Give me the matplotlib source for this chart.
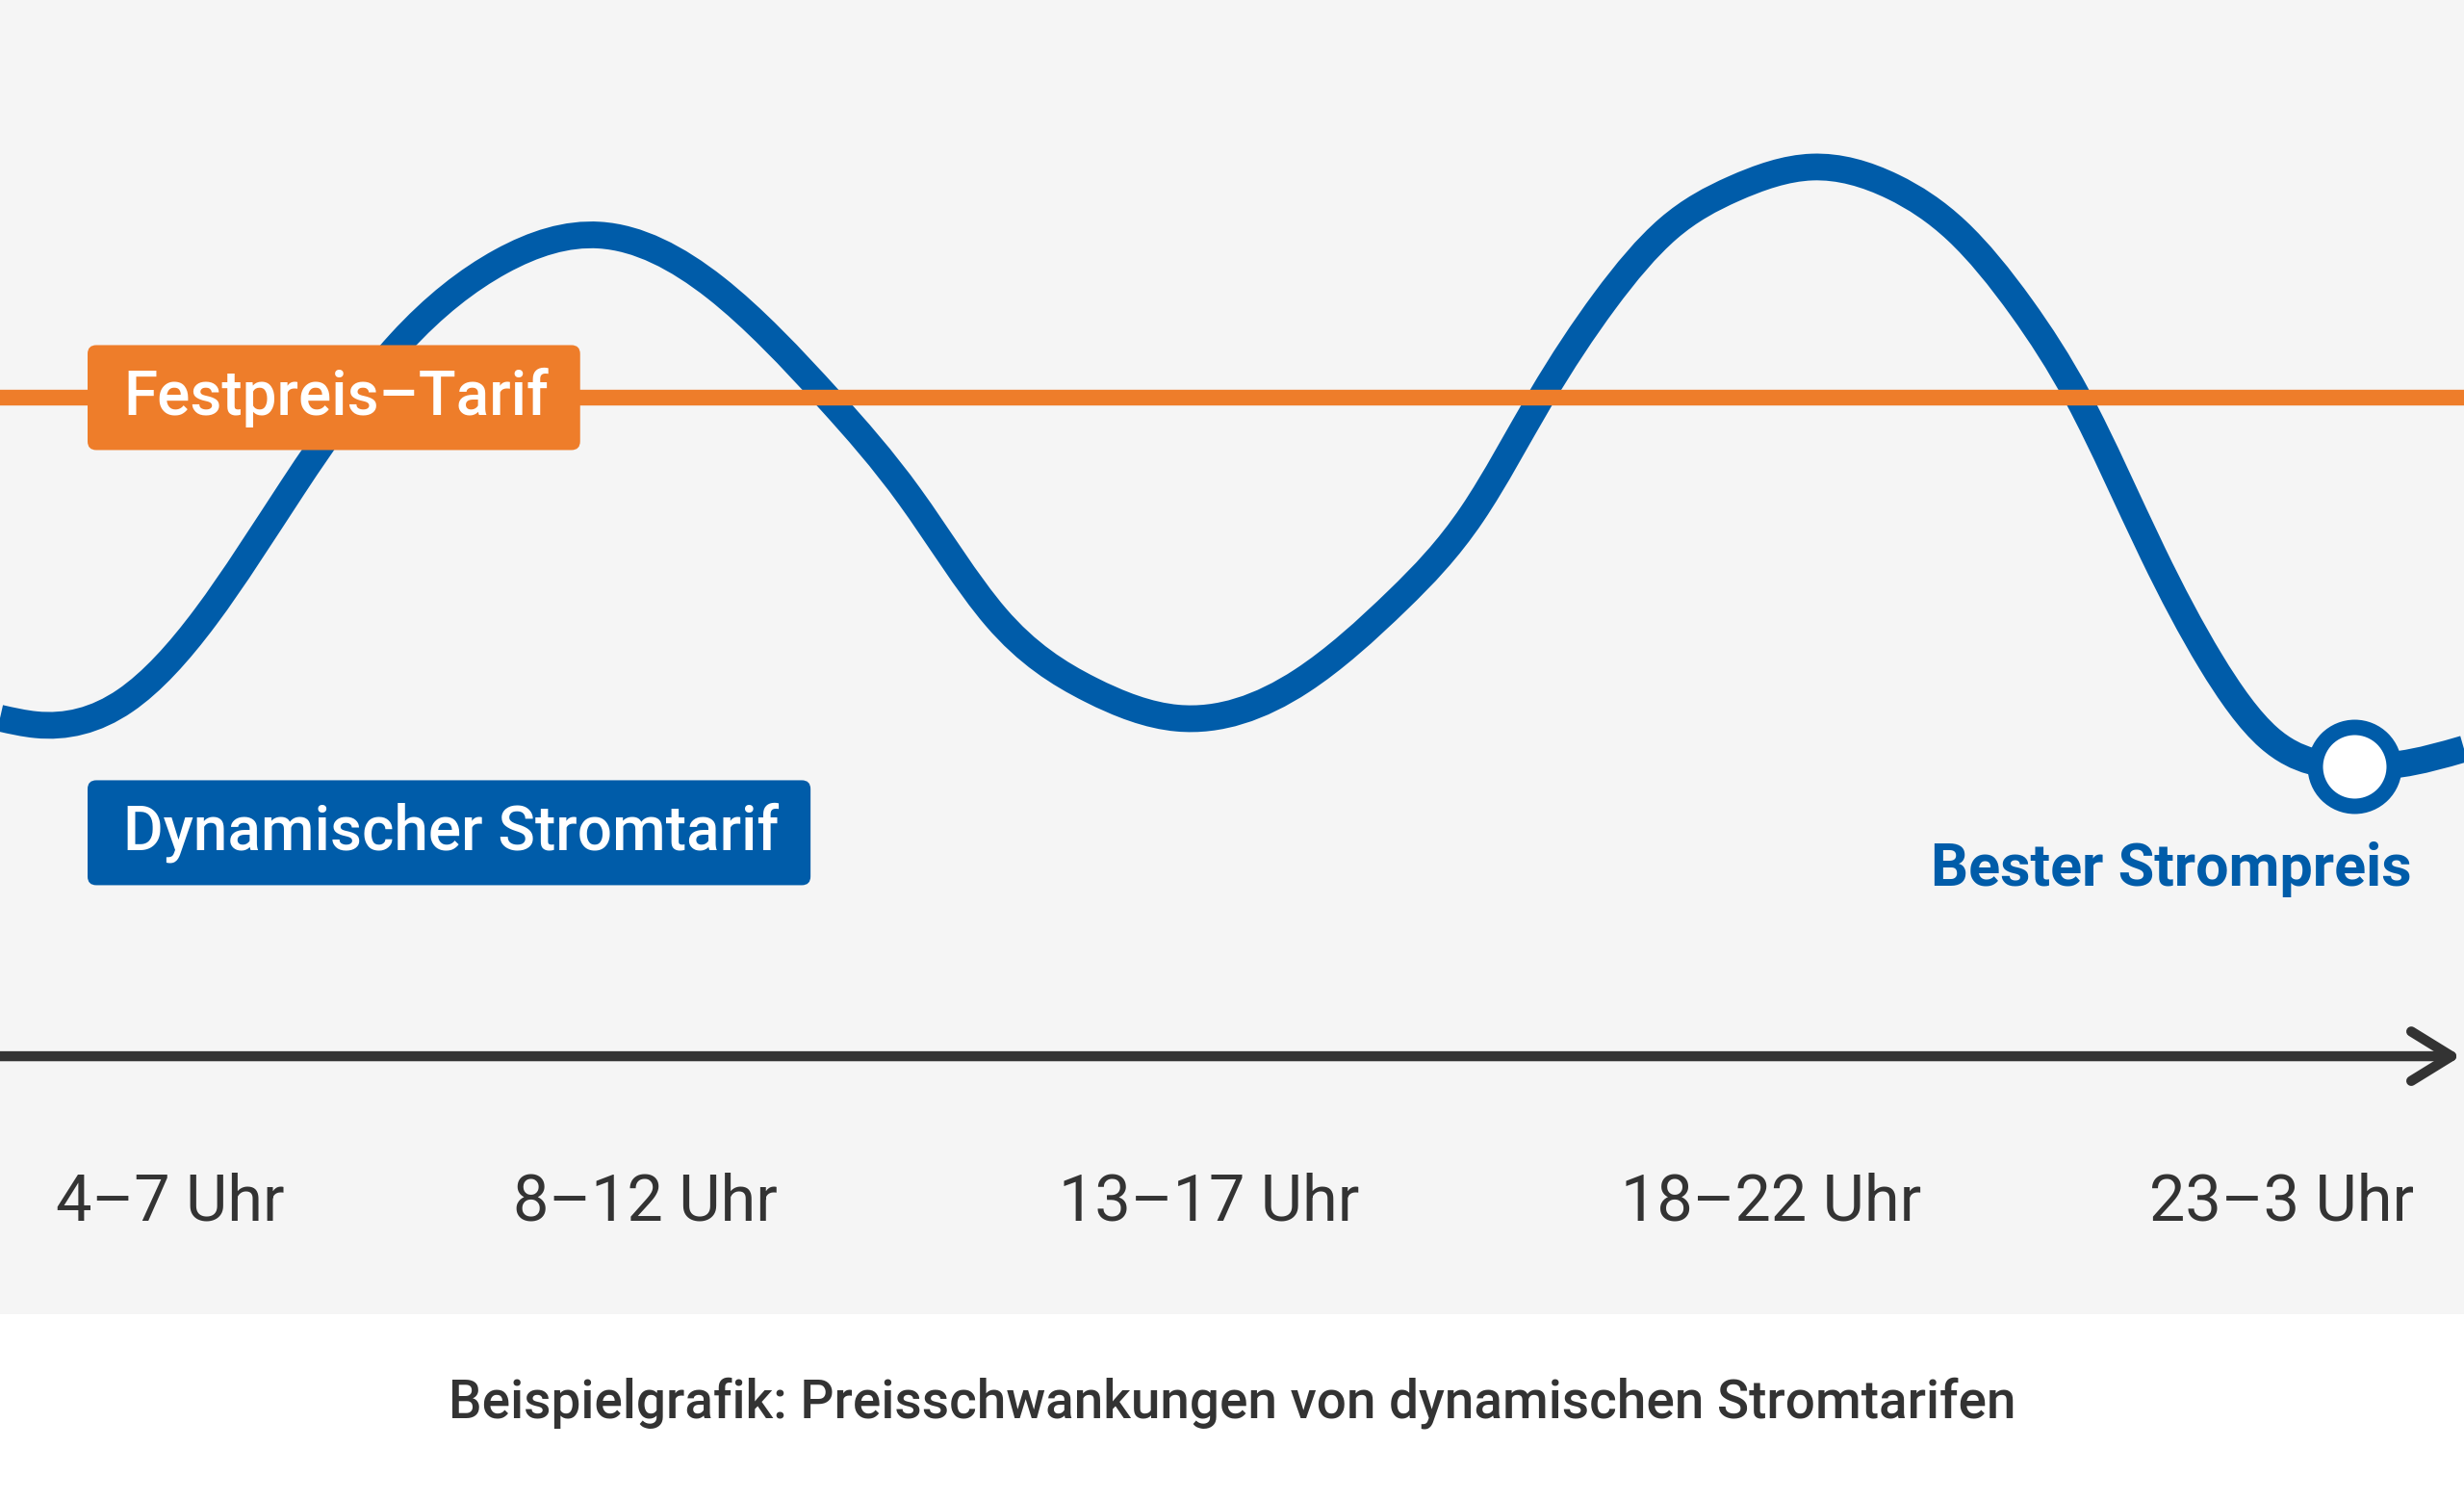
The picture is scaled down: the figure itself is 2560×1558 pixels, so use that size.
import numpy as np
import matplotlib
matplotlib.use('Agg')
import matplotlib.pyplot as plt
from matplotlib.path import Path
from matplotlib.patches import PathPatch, FancyBboxPatch

# x = Stunden ab 4 Uhr, y = Preis (willkürliche Einheit)
curve_x = [0.0, 0.35, 1.22, 2.0, 2.85, 3.9, 4.88, 5.84, 6.97, 8.08, 8.86,
           9.7, 10.62, 11.47, 12.68, 13.62, 14.34, 15.01, 15.63, 16.25, 16.88,
           17.65, 18.44, 19.06, 19.69, 20.24, 20.97, 21.53, 22.1, 22.93, 23.37, 24.0]
curve_price = [15.4, 15.1, 16.2, 20.0, 25.9, 32.5, 36.2, 37.4, 35.0, 29.9, 25.5,
               20.0, 16.7, 15.4, 17.1, 20.8, 24.7, 30.0, 34.4, 37.7, 39.5,
               40.5, 39.6, 37.6, 34.1, 30.0, 22.9, 18.0, 14.5, 13.2, 13.3, 14.0]
fixed_price = 30.0

tick_pos = [1.66, 6.29, 11.78, 17.25, 22.22]
tick_labels = ['4–7 Uhr', '8–12 Uhr', '13–17 Uhr', '18–22 Uhr', '23–3 Uhr']

BLUE = '#005CA9'
ORANGE = '#EE7D2A'
DARK = '#333333'
GRAY = '#F5F5F5'

plt.rcParams['font.family'] = ['Roboto', 'DejaVu Sans']

fig = plt.figure(figsize=(25.6, 15.58), dpi=100)
fig.patch.set_facecolor('white')
ax = fig.add_axes([0, 193 / 1558, 1, 1365 / 1558])
ax.set_xlim(0, 24)
ax.set_ylim(-11.75, 48.11)
ax.axis('off')
ax.add_patch(plt.Rectangle((0, 0), 1, 1, transform=ax.transAxes,
                           color=GRAY, zorder=0))

#%% smooth curve: natural cubic spline through the read points, as bezier path
x = np.array(curve_x)
y = np.array(curve_price)
n = len(x)
h = np.diff(x)
A = np.zeros((n, n))
r = np.zeros(n)
A[0, 0] = A[-1, -1] = 1
for i in range(1, n - 1):
    A[i, i - 1] = h[i - 1]
    A[i, i] = 2 * (h[i - 1] + h[i])
    A[i, i + 1] = h[i]
    r[i] = 6 * ((y[i + 1] - y[i]) / h[i] - (y[i] - y[i - 1]) / h[i - 1])
M = np.linalg.solve(A, r)
d = np.zeros(n)
d[:-1] = (y[1:] - y[:-1]) / h - h * (2 * M[:-1] + M[1:]) / 6
d[-1] = (y[-1] - y[-2]) / h[-1] + h[-1] * (M[-2] + 2 * M[-1]) / 6

verts = [(x[0], y[0])]
codes = [Path.MOVETO]
for i in range(n - 1):
    verts += [(x[i] + h[i] / 3, y[i] + d[i] * h[i] / 3),
              (x[i + 1] - h[i] / 3, y[i + 1] - d[i + 1] * h[i] / 3),
              (x[i + 1], y[i + 1])]
    codes += [Path.CURVE4] * 3
ax.add_patch(PathPatch(Path(verts, codes), fill=False, edgecolor=BLUE,
                       linewidth=20, capstyle='butt', joinstyle='round', zorder=2))

ax.axhline(fixed_price, color=ORANGE, linewidth=11.8, zorder=3)

# bester Preis = Minimum der Kurve
i_best = int(np.argmin(curve_price))
ax.plot(curve_x[i_best], curve_price[i_best], marker='o', markersize=59,
        markerfacecolor='white', markeredgecolor=BLUE, markeredgewidth=11.5,
        zorder=5)
ax.text(23.49, 7.76, 'Bester Strompreis', color=BLUE, fontsize=44,
        fontweight='bold', ha='right', va='baseline', zorder=5)

#%% label boxes (box drawn around the text extent, in pixels)
renderer = fig.canvas.get_renderer()


def label_box(xpos, ypos, txt, color):
    t = ax.text(xpos, ypos, txt, color='white', fontsize=46, fontweight='medium',
                ha='left', va='center', zorder=7)
    bb = t.get_window_extent(renderer)
    cy = (bb.y0 + bb.y1) / 2
    box = FancyBboxPatch((bb.x0 - 37, cy - 54.5), bb.width + 70, 109,
                         boxstyle='round,pad=0,rounding_size=9',
                         facecolor=color, edgecolor='none',
                         transform=None, zorder=6)
    ax.add_artist(box)


label_box(1.2, fixed_price, 'Festpreis–Tarif', ORANGE)
label_box(1.2, 10.18, 'Dynamischer Stromtarif', BLUE)

#%% time axis
ax.annotate('', xy=(23.97, 0), xytext=(0, 0),
            arrowprops=dict(arrowstyle='->,head_length=0.6,head_width=0.37',
                            color=DARK, linewidth=7.5, mutation_scale=50,
                            shrinkA=0, shrinkB=0, capstyle='round',
                            joinstyle='round'))
for pos, lab in zip(tick_pos, tick_labels):
    ax.text(pos, -7.46, lab, color=DARK, fontsize=48, ha='center', va='baseline')

fig.text(0.5, 85 / 1558, 'Beispielgrafik: Preisschwankungen von dynamischen Stromtarifen',
         color=DARK, fontsize=39.5, fontweight='medium', ha='center', va='baseline')

fig.savefig('out.png', dpi=100, facecolor='white')
